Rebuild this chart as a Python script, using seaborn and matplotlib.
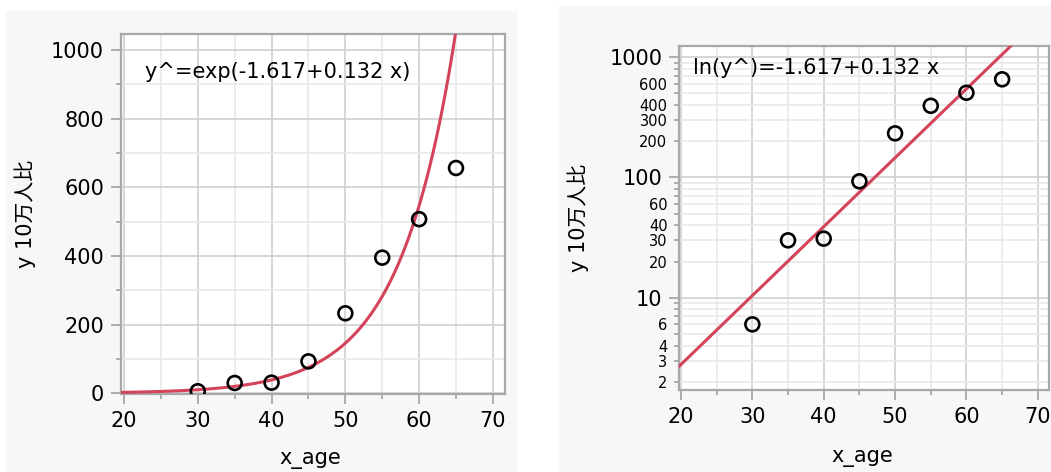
import numpy as np
import pandas as pd
import matplotlib
matplotlib.use("Agg")
import matplotlib.pyplot as plt
from matplotlib.patches import Rectangle
from matplotlib.ticker import FixedLocator, FixedFormatter
import seaborn as sns

# ---- data ----
x_age = [30, 35, 40, 45, 50, 55, 60, 65]
y_rate = [6, 30, 31, 93, 233, 395, 507, 656]
fit_intercept = -1.617
fit_slope = 0.132
left_label = "y^=exp(-1.617+0.132 x)"
right_label = "ln(y^)=-1.617+0.132 x"
x_label = "x_age"
y_label = "y 10万人比"
x_major = [20, 30, 40, 50, 60, 70]
x_minor = [25, 35, 45, 55, 65]
yl_major = [0, 200, 400, 600, 800, 1000]
yl_minor = [100, 300, 500, 700, 900]
yr_major = [10, 100, 1000]
yr_minor = [2, 3, 4, 5, 6, 7, 8, 9, 20, 30, 40, 50, 60, 70, 80, 90,
            200, 300, 400, 500, 600, 700, 800, 900]
yr_minor_labels = ["2", "3", "4", "", "6", "", "", "",
                   "20", "30", "40", "", "60", "", "", "",
                   "200", "300", "400", "", "600", "", "", ""]

sns.set_theme(style="white")
plt.rcParams['font.family'] = ['DejaVu Sans', 'Noto Sans CJK JP']
plt.rcParams['text.color'] = 'black'
plt.rcParams['axes.labelcolor'] = 'black'

W, H = 1051, 472
fig = plt.figure(figsize=(W / 100, H / 100), dpi=100)
fig.patch.set_facecolor("white")

# panel backgrounds
fig.patches.append(Rectangle((6 / W, 0), (516 - 6) / W, (H - 11) / H,
                             transform=fig.transFigure, color="#f7f7f7", zorder=-10))
fig.patches.append(Rectangle((559 / W, 0), (W - 559) / W, (H - 6) / H,
                             transform=fig.transFigure, color="#f7f7f7", zorder=-10))

axL = fig.add_axes([120.7 / W, 1 - 394.3 / H, 384 / W, 360.6 / H])
axR = fig.add_axes([679 / W, 1 - 390 / H, 369.5 / W, 344.3 / H])

df = pd.DataFrame({"x": x_age, "y": y_rate})
xs = np.linspace(19, 73, 400)
fit = pd.DataFrame({"x": xs, "y": np.exp(fit_intercept + fit_slope * xs)})

RED = "#d4435a"
FS = 15
for ax in (axL, axR):
    ax.set_facecolor("white")
    sns.lineplot(data=fit, x="x", y="y", ax=ax, color=RED, linewidth=2.2, zorder=3)
    sns.scatterplot(data=df, x="x", y="y", ax=ax, marker="o", s=100,
                    facecolor="none", edgecolor="black", linewidth=1.9, zorder=4)
    ax.set_xlim(19.55, 71.6)
    ax.xaxis.set_major_locator(FixedLocator(x_major))
    ax.xaxis.set_minor_locator(FixedLocator(x_minor))
    ax.grid(True, which="major", color="#d0d0d0", linewidth=1.2)
    ax.grid(True, which="minor", color="#e9e9e9", linewidth=1.2)
    ax.set_axisbelow(True)
    for s in ax.spines.values():
        s.set_color("#a8a8a8")
        s.set_linewidth(1.6)
    ax.tick_params(axis="both", which="major", length=7.5, width=1.2, color="#a0a0a0",
                   labelsize=FS, pad=4.5, labelcolor="black", left=True, bottom=True)
    ax.tick_params(axis="both", which="minor", length=3.8, width=1.2, color="#a0a0a0",
                   labelcolor="black", left=True, bottom=True)
    ax.set_xlabel(x_label, fontsize=FS, va="center", color="black")
    ax.set_ylabel(y_label, fontsize=FS, va="center", color="black")

# left: linear
axL.set_ylim(-2.9, 1047)
axL.yaxis.set_major_locator(FixedLocator(yl_major))
axL.yaxis.set_minor_locator(FixedLocator(yl_minor))
axL.text(0.063, 0.894, left_label, transform=axL.transAxes, fontsize=FS,
         va="center", ha="left", color="black")
axL.xaxis.set_label_coords(0.493, -0.179)
axL.yaxis.set_label_coords(-0.249, 0.5)

# right: log
axR.set_yscale("log")
axR.set_xlim(19.72, 71.5)
axR.set_ylim(1.706, 1249)
axR.yaxis.set_major_locator(FixedLocator(yr_major))
axR.yaxis.set_major_formatter(FixedFormatter([str(v) for v in yr_major]))
axR.yaxis.set_minor_locator(FixedLocator(yr_minor))
axR.yaxis.set_minor_formatter(FixedFormatter(yr_minor_labels))
axR.tick_params(axis="y", which="minor", labelsize=10.5, pad=4.5)
axR.text(0.038, 0.935, right_label, transform=axR.transAxes, fontsize=FS,
         va="center", ha="left", color="black")
axR.xaxis.set_label_coords(0.495, -0.195)
axR.yaxis.set_label_coords(-0.273, 0.5)

fig.savefig("out.png", dpi=100, facecolor=fig.get_facecolor())
